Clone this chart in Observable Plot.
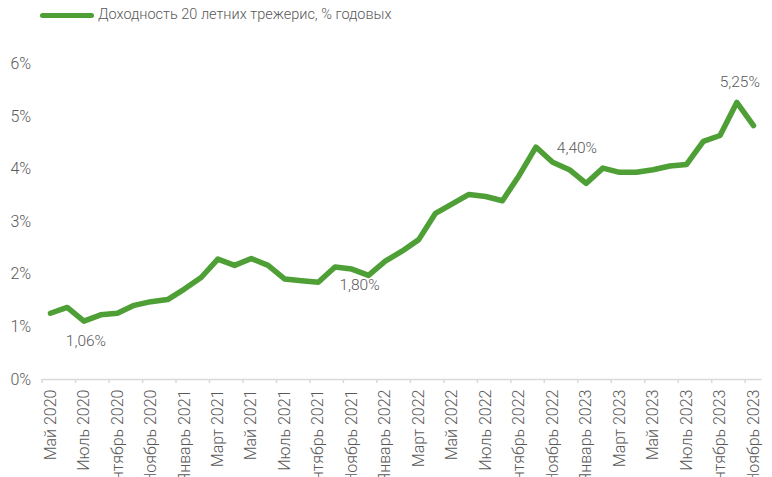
<!DOCTYPE html>
<html>
<head>
<meta charset="utf-8">
<script src="https://cdn.jsdelivr.net/npm/d3@7"></script>
<script src="https://cdn.jsdelivr.net/npm/@observablehq/plot@0.6"></script>
<style>
  html, body { margin: 0; padding: 0; background: #fff; overflow: hidden; }
  body { width: 772px; height: 477px; font-family: Roboto, "Noto Sans", sans-serif; }
  #legend { position: relative; height: 40px; }
  #legend .sw { position: absolute; left: 40px; top: 13px; width: 54px; height: 5px; border-radius: 3px; background: #4E9F36; }
  #legend .lb { position: absolute; left: 98px; top: 5px; font-size: 14.5px; font-weight: 300; color: #595959; line-height: 20px; white-space: nowrap; }
</style>
</head>
<body>
<div id="legend"><span class="sw"></span><span class="lb"></span></div>
<div id="chart"></div>
<script>
const seriesName = "Доходность 20 летних трежерис, % годовых";

const months = [
  "Май 2020","Июнь 2020","Июль 2020","Август 2020","Сентябрь 2020","Октябрь 2020","Ноябрь 2020","Декабрь 2020",
  "Январь 2021","Февраль 2021","Март 2021","Апрель 2021","Май 2021","Июнь 2021","Июль 2021","Август 2021",
  "Сентябрь 2021","Октябрь 2021","Ноябрь 2021","Декабрь 2021",
  "Январь 2022","Февраль 2022","Март 2022","Апрель 2022","Май 2022","Июнь 2022","Июль 2022","Август 2022",
  "Сентябрь 2022","Октябрь 2022","Ноябрь 2022","Декабрь 2022",
  "Январь 2023","Февраль 2023","Март 2023","Апрель 2023","Май 2023","Июнь 2023","Июль 2023","Август 2023",
  "Сентябрь 2023","Октябрь 2023","Ноябрь 2023"
];

const yields = [
  1.26, 1.37, 1.11, 1.23, 1.26, 1.41, 1.48, 1.52,
  1.72, 1.94, 2.29, 2.17, 2.30, 2.17, 1.91, 1.88,
  1.85, 2.14, 2.10, 1.98,
  2.25, 2.44, 2.66, 3.16, 3.34, 3.52, 3.48, 3.40,
  3.88, 4.42, 4.13, 3.99,
  3.73, 4.02, 3.94, 3.94, 3.99, 4.06, 4.09, 4.53,
  4.64, 5.27, 4.83
];

const yTicks = [0, 1, 2, 3, 4, 5, 6];

const annotMonths = ["Июль 2020", "Декабрь 2021", "Октябрь 2022", "Октябрь 2023"];
const annotTexts = ["1,06%", "1,80%", "4,40%", "5,25%"];
const annotOffsets = [[2, 20], [-9, 10], [41, 1], [3, -20]];

document.querySelector("#legend .lb").textContent = seriesName;

const data = months.map((m, i) => ({i, month: m, value: yields[i]}));
const labelIdx = months.map((m, i) => i).filter(i => i % 2 === 0);
const boundaryIdx = labelIdx.map(i => i - 0.5);

const green = "#4E9F36";
const grey = "#595959";
const axisGrey = "#D9D9D9";

const annotMarks = annotMonths.map((m, k) => {
  const i = months.indexOf(m);
  return Plot.text([{i, value: yields[i], t: annotTexts[k]}], {
    x: "i", y: "value", text: "t",
    dx: annotOffsets[k][0], dy: annotOffsets[k][1],
    fill: grey, fontSize: 15.5, fontWeight: 300, textAnchor: "middle"
  });
});

const chart = Plot.plot({
  width: 772,
  height: 437,
  marginLeft: 41.6,
  marginRight: 10.6,
  marginTop: 23.5,
  marginBottom: 98,
  style: {fontFamily: "Roboto, 'Noto Sans', sans-serif", fontSize: "16px", fontWeight: 300, color: grey, background: "#fff"},
  x: {domain: [-0.5, 42.5]},
  y: {domain: [0, 6]},
  marks: [
    Plot.axisY({ticks: yTicks, tickFormat: d => d + "%", tickSize: 0, tickPadding: 11, label: null, fill: grey}),
    Plot.axisX({ticks: labelIdx, tickFormat: i => months[i], tickRotate: -90, tickSize: 0, tickPadding: 10, label: null, fill: grey}),
    Plot.axisX({ticks: boundaryIdx, tickFormat: () => "", tickSize: 4, tickPadding: 0, label: null, stroke: axisGrey, strokeWidth: 1.5}),
    Plot.ruleY([0], {x1: -0.5, x2: 42.5, stroke: axisGrey, strokeWidth: 1.5}),
    Plot.line(data, {x: "i", y: "value", stroke: green, strokeWidth: 5.5, strokeLinejoin: "round", strokeLinecap: "round"}),
    ...annotMarks
  ]
});
document.getElementById("chart").appendChild(chart);
</script>
</body>
</html>
